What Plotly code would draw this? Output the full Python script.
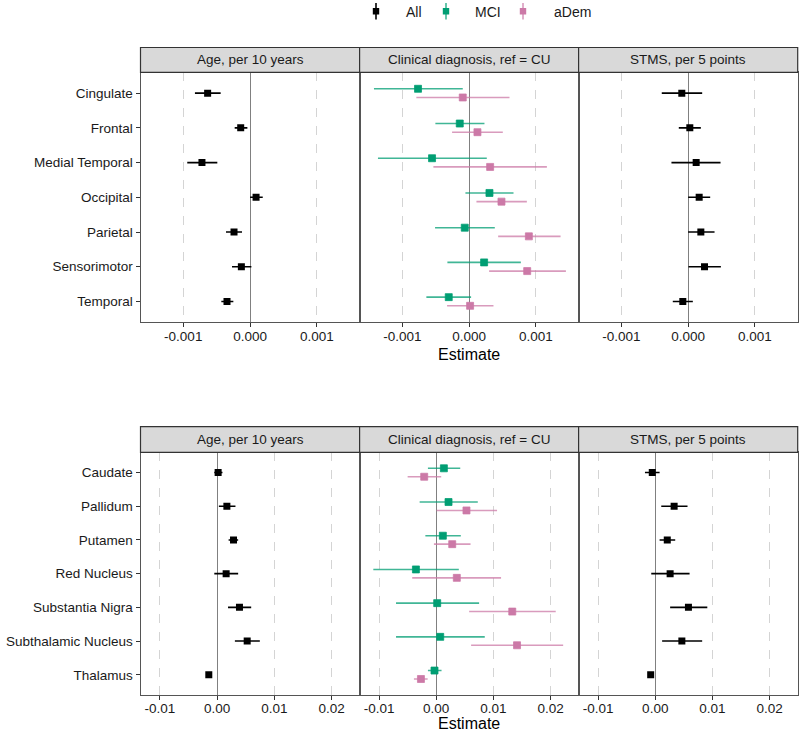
import plotly.graph_objects as go

# ---------------- data ----------------
cortical = ["Cingulate", "Frontal", "Medial Temporal", "Occipital", "Parietal", "Sensorimotor", "Temporal"]
subcortical = ["Caudate", "Pallidum", "Putamen", "Red Nucleus", "Substantia Nigra", "Subthalamic Nucleus", "Thalamus"]
facets = ["Age, per 10 years", "Clinical diagnosis, ref = CU", "STMS, per 5 points"]
groups = ["All", "MCI", "aDem"]

# cortical: Age (All)
c_age_est = [-0.000635, -0.00014, -0.00072, 0.00009, -0.00024, -0.00013, -0.000345]
c_age_lo = [-0.000825, -0.00023, -0.00094, 0.0, -0.00036, -0.00027, -0.00043]
c_age_hi = [-0.00044, -0.00004, -0.00049, 0.00019, -0.00012, 0.00002, -0.00025]
# cortical: Clinical diagnosis MCI
c_mci_est = [-0.000765, -0.00014, -0.000555, 0.000305, -0.000065, 0.000225, -0.000305]
c_mci_lo = [-0.001425, -0.000505, -0.001365, -0.000055, -0.00051, -0.000325, -0.00064]
c_mci_hi = [-0.000095, 0.00023, 0.000265, 0.000665, 0.000385, 0.000775, 0.00003]
# cortical: Clinical diagnosis aDem
c_adem_est = [-0.000095, 0.000125, 0.000315, 0.000485, 0.000895, 0.00087, 0.000015]
c_adem_lo = [-0.00079, -0.000255, -0.000535, 0.00011, 0.000435, 0.0003, -0.00033]
c_adem_hi = [0.000605, 0.000505, 0.001165, 0.000865, 0.00137, 0.00145, 0.000365]
# cortical: STMS (All)
c_stms_est = [-0.000095, 0.000025, 0.00012, 0.000165, 0.00019, 0.000245, -0.00008]
c_stms_lo = [-0.000395, -0.00014, -0.00025, 0.0, 0.0, 0.000005, -0.00023]
c_stms_hi = [0.00021, 0.00019, 0.000485, 0.00033, 0.000395, 0.00049, 0.00007]

# subcortical: Age (All)
s_age_est = [0.00017, 0.0017, 0.00286, 0.00157, 0.0039, 0.00525, -0.00146]
s_age_lo = [-0.0005, 0.0003, 0.002, -0.0005, 0.0019, 0.0031, -0.0019]
s_age_hi = [0.00093, 0.0032, 0.00367, 0.00367, 0.00595, 0.00746, -0.001]
# subcortical: Clinical diagnosis MCI
s_mci_est = [0.00134, 0.00215, 0.00116, -0.00355, 0.00017, 0.0007, -0.0003]
s_mci_lo = [-0.00145, -0.0029, -0.0019, -0.011, -0.00703, -0.00703, -0.00145]
s_mci_hi = [0.0042, 0.00727, 0.0043, 0.00395, 0.0075, 0.00849, 0.00093]
# subcortical: Clinical diagnosis aDem
s_adem_est = [-0.0021, 0.00529, 0.0028, 0.0036, 0.0133, 0.01413, -0.00267]
s_adem_lo = [-0.005, 0.00006, -0.0004, -0.0042, 0.00576, 0.0061, -0.0039]
s_adem_hi = [0.00087, 0.01064, 0.006, 0.01134, 0.0209, 0.0222, -0.0015]
# subcortical: STMS (All)
s_stms_est = [-0.00052, 0.0033, 0.0021, 0.0026, 0.0058, 0.00465, -0.0008]
s_stms_lo = [-0.0018, 0.00105, 0.00076, -0.0007, 0.0026, 0.0012, -0.0012]
s_stms_hi = [0.00076, 0.00564, 0.00349, 0.006, 0.0091, 0.0082, -0.0004]

top_ticks = [-0.001, 0.0, 0.001]
top_ticktext = ["-0.001", "0.000", "0.001"]
bot_ticks = [-0.01, 0.0, 0.01, 0.02]
bot_ticktext = ["-0.01", "0.00", "0.01", "0.02"]

# ---------------- styling ----------------
W, H = 800, 735
FONT = "Liberation Sans, Arial, Helvetica, sans-serif"
FS = 13.5
colors = {"All": "#000000", "MCI": "#009E73", "aDem": "#CC79A7"}
line_colors = {"All": "#000000", "MCI": "rgba(0,158,115,0.75)", "aDem": "rgba(204,121,167,0.75)"}
dodge = {"All": 0.0, "MCI": -0.125, "aDem": 0.125}

def px_x(v):
    return v / W

def px_y(v):
    return 1 - v / H

col_px = [(140.5, 359.6), (359.6, 578.6), (578.6, 797.7)]
row_px = [(72.3, 322.3), (452.3, 695.0)]
strip_px = [(47.5, 72.3), (426.7, 452.3)]
title_px = [354.0, 723.5]
xranges = [[-0.00164, 0.00164], [-0.0134, 0.0249]]

fig = go.Figure()

def add_series(est, lo, hi, group, axis_idx):
    ys = [i + dodge[group] for i in range(len(est))]
    plus = [h - e for e, h in zip(est, hi)]
    minus = [e - l for e, l in zip(est, lo)]
    suffix = "" if axis_idx == 1 else str(axis_idx)
    fig.add_trace(go.Scatter(
        x=est, y=ys, mode="markers", showlegend=False, name=group,
        xaxis="x" + suffix, yaxis="y" + suffix,
        marker=dict(symbol="square", size=7, color=colors[group],
                    line=dict(width=1 if group != "All" else 0,
                              color=line_colors[group])),
        error_x=dict(type="data", symmetric=False, array=plus, arrayminus=minus,
                     width=0, thickness=1.6, color=line_colors[group]),
        hoverinfo="x+name",
    ))

# row 1 (cortical)
add_series(c_age_est, c_age_lo, c_age_hi, "All", 1)
add_series(c_mci_est, c_mci_lo, c_mci_hi, "MCI", 2)
add_series(c_adem_est, c_adem_lo, c_adem_hi, "aDem", 2)
add_series(c_stms_est, c_stms_lo, c_stms_hi, "All", 3)
# row 2 (subcortical)
add_series(s_age_est, s_age_lo, s_age_hi, "All", 4)
add_series(s_mci_est, s_mci_lo, s_mci_hi, "MCI", 5)
add_series(s_adem_est, s_adem_lo, s_adem_hi, "aDem", 5)
add_series(s_stms_est, s_stms_lo, s_stms_hi, "All", 6)

layout = dict(
    width=W, height=H, margin=dict(l=0, r=0, t=0, b=0),
    paper_bgcolor="white", plot_bgcolor="white",
    font=dict(family=FONT, size=FS, color="#1a1a1a"),
    showlegend=False,
)

shapes = []
annotations = []
labels_by_row = [cortical, subcortical]
for r in range(2):
    for c in range(3):
        idx = r * 3 + c + 1
        suffix = "" if idx == 1 else str(idx)
        x0, x1 = col_px[c]
        y0, y1 = row_px[r]
        ticks = top_ticks if r == 0 else bot_ticks
        ttext = top_ticktext if r == 0 else bot_ticktext
        layout["xaxis" + suffix] = dict(
            domain=[px_x(x0), px_x(x1)], anchor="y" + suffix,
            range=xranges[r], tickvals=ticks, ticktext=ttext,
            showgrid=True, gridcolor="#D4D4D4", griddash="dash", gridwidth=1,
            zeroline=True, zerolinecolor="#808080", zerolinewidth=1.2,
            showline=True, mirror=True, linecolor="#555555", linewidth=1,
            ticks="outside", ticklen=4, tickcolor="#333333", tickwidth=1,
            ticklabelstandoff=-3,
            tickfont=dict(family=FONT, size=FS, color="#1a1a1a"),
            fixedrange=True,
        )
        ydict = dict(
            domain=[px_y(y1), px_y(y0)], anchor="x" + suffix,
            range=[6.6, -0.6], showgrid=False, zeroline=False,
            showline=True, mirror=True, linecolor="#555555", linewidth=1,
            fixedrange=True,
        )
        if c == 0:
            ydict.update(tickvals=list(range(7)), ticktext=labels_by_row[r],
                         ticks="outside", ticklen=4, tickcolor="#333333", tickwidth=1,
                         tickfont=dict(family=FONT, size=FS, color="#1a1a1a"))
        else:
            ydict.update(showticklabels=False, ticks="")
        layout["yaxis" + suffix] = ydict

        # strip
        s0, s1 = strip_px[r]
        shapes.append(dict(type="rect", xref="paper", yref="paper",
                           x0=px_x(x0), x1=px_x(x1), y0=px_y(s1), y1=px_y(s0),
                           fillcolor="#D9D9D9", line=dict(color="#333333", width=1.2),
                           layer="above"))
        annotations.append(dict(text=facets[c], xref="paper", yref="paper",
                                x=px_x((x0 + x1) / 2), y=px_y((s0 + s1) / 2),
                                xanchor="center", yanchor="middle", showarrow=False,
                                font=dict(family=FONT, size=FS, color="#1a1a1a")))
    # x axis title
    annotations.append(dict(text="Estimate", xref="paper", yref="paper",
                            x=px_x(sum(col_px[1]) / 2), y=px_y(title_px[r]),
                            xanchor="center", yanchor="middle", showarrow=False,
                            font=dict(family=FONT, size=16, color="#000000")))

# manual legend (ggplot-style pointrange keys)
legend_items = [("All", 376, 404), ("MCI", 446, 473), ("aDem", 523, 552)]
for name, gx, tx in legend_items:
    shapes.append(dict(type="line", xref="paper", yref="paper",
                       x0=px_x(gx), x1=px_x(gx), y0=px_y(19.5), y1=px_y(3),
                       line=dict(color=line_colors[name], width=1.6)))
    shapes.append(dict(type="rect", xref="paper", yref="paper",
                       x0=px_x(gx - 3.2), x1=px_x(gx + 3.2), y0=px_y(14.5), y1=px_y(8),
                       fillcolor=colors[name], line=dict(width=0)))
    annotations.append(dict(text=name, xref="paper", yref="paper",
                            x=px_x(tx), y=px_y(11.5), xanchor="left", yanchor="middle",
                            showarrow=False, font=dict(family=FONT, size=14, color="#1a1a1a")))

layout["shapes"] = shapes
layout["annotations"] = annotations
fig.update_layout(**layout)

fig.write_html("out.html", config={"displayModeBar": False},
               post_script="document.body.style.margin='0';document.body.style.padding='0';")
